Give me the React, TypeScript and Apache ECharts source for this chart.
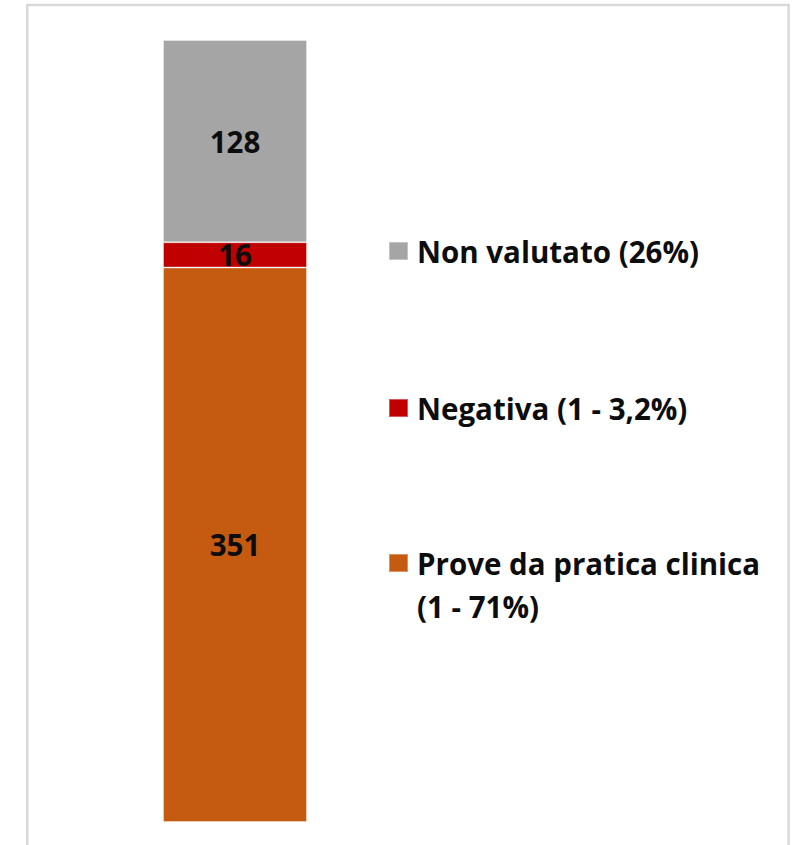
import React, { useEffect, useRef } from "react";
import * as echarts from "echarts";

const categories = ["Totale"];
const seriesNames = [
  "Prove da pratica clinica (1 - 71%)",
  "Negativa (1 - 3,2%)",
  "Non valutato (26%)",
];
const seriesValues = [[351], [16], [128]];
const seriesColors = ["#c55a11", "#c00000", "#a5a5a5"];

const FONT = "Open Sans";
const FS = 29.5;

export default function App() {
  const ref = useRef<HTMLDivElement>(null);
  useEffect(() => {
    if (!ref.current) return;
    const chart = echarts.init(ref.current, null, { renderer: "svg" });
    const legendTops = [498.5, 386.5, 229.5];
    const legends = seriesNames.map((name, i) => ({
      data: [name],
      orient: "vertical",
      left: 388,
      top: legendTops[i],
      padding: 0,
      itemWidth: 19,
      itemHeight: 18,
      itemGap: 10,
      icon: "rect",
      selectedMode: false,
      formatter: (n: string) =>
        i === 0
          ? "{t| }\n" + n.split(" (").map((p, k) => "{t|" + (k ? "(" + p : p) + "}").join("\n")
          : "{t|" + n + "}",
      textStyle: {
        fontFamily: FONT,
        fontWeight: "bold",
        fontSize: FS,
        color: "#0d0d0d",
        lineHeight: 43,
        rich: {
          t: {
            fontFamily: FONT,
            fontWeight: "bold",
            fontSize: FS,
            color: "#0d0d0d",
            lineHeight: 43,
            padding: [0, 0, 0, 4],
          },
        },
      },
    }));
    chart.setOption({
      animation: false,
      backgroundColor: "#ffffff",
      grid: { left: 163, width: 144, top: 40, height: 782 },
      xAxis: { type: "category", data: categories, show: false },
      yAxis: { type: "value", min: 0, max: 495, show: false },
      legend: legends,
      graphic: [
        {
          type: "rect",
          shape: { x: 27.3, y: 5, width: 761.3, height: 900 },
          style: { fill: "none", stroke: "#d9d9d9", lineWidth: 2.5 },
          silent: true,
        },
      ],
      series: seriesNames.map((name, i) => ({
        type: "bar",
        name,
        stack: "tot",
        barWidth: "100%",
        data: seriesValues[i],
        itemStyle: {
          color: seriesColors[i],
          borderColor: "rgba(255,255,255,0.35)",
          borderWidth: 1,
        },
        label: {
          show: true,
          position: "inside",
          fontFamily: FONT,
          fontWeight: "bold",
          fontSize: FS,
          color: "#0d0d0d",
        },
      })),
    });
    return () => chart.dispose();
  }, []);
  return (
    <div
      ref={ref}
      style={{ position: "absolute", left: 0, top: 0, width: 795, height: 845 }}
    />
  );
}
